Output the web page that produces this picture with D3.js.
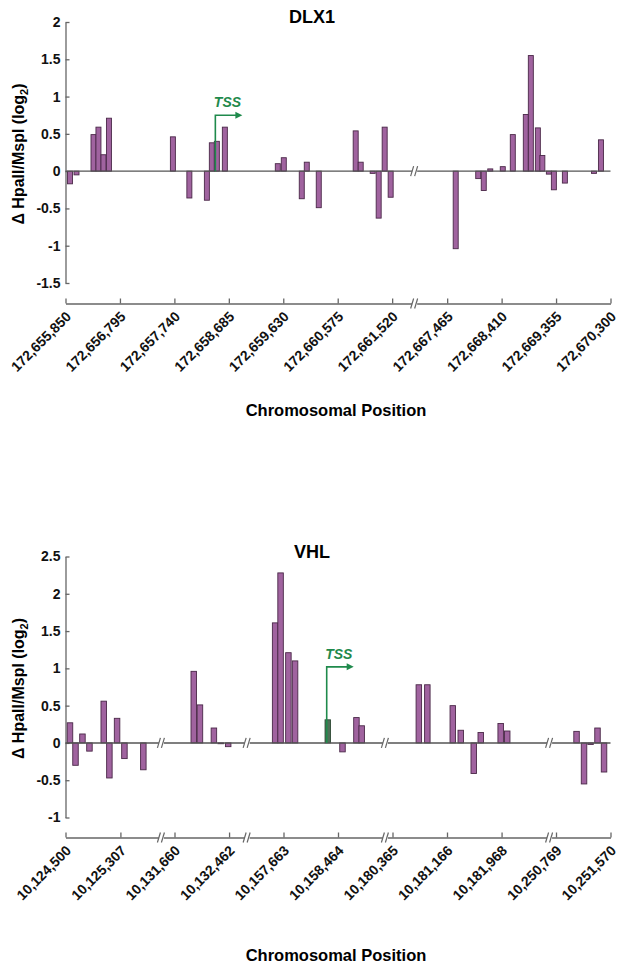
<!DOCTYPE html>
<html>
<head>
<meta charset="utf-8">
<script src="https://cdn.jsdelivr.net/npm/d3@7"></script>
<style>
  html, body { margin: 0; padding: 0; background: #fff; }
  svg { display: block; font-family: "Liberation Sans", Arial, Helvetica, sans-serif; }
</style>
</head>
<body>
<svg id="chart" width="621" height="967"></svg>
<script>
// DLX1 panel
const dlxTicks = [172655850, 172656795, 172657740, 172658685, 172659630, 172660575, 172661520,
  172667465, 172668410, 172669355, 172670300];
const dlxSegments = [[172655850, 172661919], [172666909, 172670300]];
const dlxPos = [172655928, 172656041, 172656336, 172656422, 172656509, 172656604, 172657714,
  172658000, 172658304, 172658390, 172658477, 172658616, 172659535, 172659639, 172659951,
  172660038, 172660246, 172660887, 172660974, 172661182, 172661286, 172661390, 172661494,
  172667613, 172668004, 172668100, 172668213, 172668430, 172668604, 172668830, 172668917,
  172669039, 172669117, 172669230, 172669317, 172669508, 172670013, 172670134];
const dlxVal = [-0.17, -0.05, 0.49, 0.59, 0.22, 0.71, 0.46, -0.36, -0.39, 0.38, 0.40, 0.59,
  0.10, 0.18, -0.37, 0.12, -0.49, 0.54, 0.12, -0.03, -0.63, 0.59, -0.35, -1.04, -0.10, -0.26,
  0.03, 0.06, 0.49, 0.76, 1.55, 0.58, 0.21, -0.04, -0.25, -0.16, -0.03, 0.42];
const dlxYTicks = [-1.5, -1, -0.5, 0, 0.5, 1, 1.5, 2];
const dlxTss = 172658451;

// VHL panel
const vhlTicks = [10124500, 10125307, 10131660, 10132462, 10157663, 10158464, 10180365,
  10181166, 10181968, 10250769, 10251570];
const vhlSegments = [[10124500, 10125917], [10131475, 10132735], [10157136, 10159168],
  [10180268, 10182681], [10250682, 10251570]];
const vhlPos = [10124566, 10124647, 10124749, 10124852, 10125062, 10125145, 10125258,
  10125366, 10125644, 10131943, 10132034, 10132239, 10132339, 10132449, 10157540, 10157620,
  10157735, 10157833, 10158314, 10158530, 10158735, 10158812, 10180752, 10180877, 10181251,
  10181368, 10181559, 10181662, 10181955, 10182051, 10251071, 10251181, 10251277, 10251379,
  10251475];
const vhlVal = [0.27, -0.30, 0.12, -0.11, 0.56, -0.47, 0.33, -0.21, -0.36, 0.96, 0.51, 0.20,
  -0.01, -0.05, 1.61, 2.28, 1.21, 1.10, 0.31, -0.12, 0.34, 0.23, 0.78, 0.78, 0.50, 0.17,
  -0.41, 0.14, 0.26, 0.16, 0.155, -0.55, -0.02, 0.20, -0.39];
const vhlYTicks = [-1, -0.5, 0, 0.5, 1, 1.5, 2, 2.5];
const vhlTss = 10158298;
const vhlTssBar = 18; // index of the bar drawn in green

const svg = d3.select("#chart");
const left = 65.5, right = 610.5;
const axisColor = "#666";

function drawPanel(cfg) {
  const g = svg.append("g");

  // piecewise x scale, one piece per visible genomic segment
  const total = d3.sum(cfg.segments, s => s[1] - s[0]);
  const k = (right - left) / total;
  const dom = [], rng = [];
  let px = left;
  cfg.segments.forEach(s => {
    dom.push(s[0], s[1]);
    rng.push(px, px + (s[1] - s[0]) * k);
    px += (s[1] - s[0]) * k;
  });
  const x = d3.scaleLinear().domain(dom).range(rng);
  const breaks = rng.filter((d, i) => i % 2 === 1 && i < rng.length - 1);

  const y = d3.scaleLinear().domain(d3.extent(cfg.yTicks)).range([cfg.top + 261, cfg.top]);

  // y axis
  g.append("g")
    .attr("transform", `translate(${left},0)`)
    .call(d3.axisLeft(y).tickValues(cfg.yTicks).tickSizeInner(-4).tickSizeOuter(0)
      .tickPadding(5).tickFormat(d => String(d)))
    .call(a => a.selectAll("path, line").attr("stroke", axisColor).attr("stroke-width", 1.3))
    .call(a => a.selectAll("text").attr("fill", "#111").attr("font-size", 14)
      .attr("font-weight", "bold").attr("font-family", null));

  // bars
  const data = cfg.pos.map((p, i) => ({pos: p, val: cfg.vals[i], i: i}));
  g.append("g").selectAll("rect")
    .data(data)
    .join("rect")
    .attr("x", d => x(d.pos) - cfg.barW / 2)
    .attr("y", d => y(Math.max(0, d.val)))
    .attr("width", cfg.barW)
    .attr("height", d => Math.max(0.8, Math.abs(y(d.val) - y(0))))
    .attr("fill", d => d.i === cfg.greenBar ? "#4f6f57" : "#a0639f")
    .attr("stroke", d => d.i === cfg.greenBar ? "#2f4a36" : "#4a2848")
    .attr("stroke-width", 0.9);

  // zero line
  g.append("line")
    .attr("x1", left).attr("x2", right)
    .attr("y1", y(0)).attr("y2", y(0))
    .attr("stroke", "#555").attr("stroke-width", 1.4);

  // x axis
  const xa = g.append("g")
    .attr("transform", `translate(0,${cfg.axisY})`)
    .call(d3.axisBottom(x).tickValues(cfg.ticks).tickSizeInner(-5).tickSizeOuter(0)
      .tickFormat(d3.format(",")));
  xa.selectAll("path, line").attr("stroke", axisColor).attr("stroke-width", 1.3);
  xa.selectAll("text")
    .attr("fill", "#111").attr("font-size", 14).attr("font-weight", "bold")
    .attr("font-family", null)
    .attr("x", 0).attr("y", 0).attr("dy", null)
    .attr("text-anchor", "end")
    .attr("transform", "translate(6,14) rotate(-45)");

  // axis break marks on the zero line and on the x axis
  breaks.forEach(bx => {
    [y(0), cfg.axisY].forEach(by => {
      g.append("rect").attr("x", bx - 3).attr("y", by - 2).attr("width", 5).attr("height", 4)
        .attr("fill", "#fff");
      [-3, 1].forEach(o => {
        g.append("line")
          .attr("x1", bx + o - 1.5).attr("y1", by + 5)
          .attr("x2", bx + o + 1.5).attr("y2", by - 5)
          .attr("stroke", axisColor).attr("stroke-width", 1.2);
      });
    });
  });

  // TSS arrow
  const tx = x(cfg.tss), ty = y(cfg.tssTop);
  const green = "#1f8a4c";
  g.append("path")
    .attr("d", `M${tx},${y(0)}V${ty}H${tx + 22}`)
    .attr("fill", "none").attr("stroke", green).attr("stroke-width", 1.6);
  g.append("path")
    .attr("d", `M${tx + 27},${ty}L${tx + 20},${ty - 3.5}L${tx + 20},${ty + 3.5}Z`)
    .attr("fill", green);
  g.append("text")
    .attr("x", tx - 1.5).attr("y", ty - 8)
    .attr("fill", green).attr("font-size", 14).attr("font-weight", "bold")
    .attr("font-style", "italic")
    .text("TSS");

  // titles
  g.append("text")
    .attr("x", 312).attr("y", cfg.top + 1)
    .attr("text-anchor", "middle").attr("font-size", 18).attr("font-weight", "bold")
    .text(cfg.title);

  const yl = g.append("text")
    .attr("transform", `translate(24,${cfg.top + 132}) rotate(-90)`)
    .attr("text-anchor", "middle").attr("font-size", 16).attr("font-weight", "bold");
  yl.append("tspan").text("\u0394 HpaII/MspI (log");
  yl.append("tspan").attr("font-size", 11).attr("dy", 4).text("2");
  yl.append("tspan").attr("dy", -4).text(")");

  g.append("text")
    .attr("x", 336).attr("y", cfg.xTitleY)
    .attr("text-anchor", "middle").attr("font-size", 16.5).attr("font-weight", "bold")
    .text("Chromosomal Position");
}

drawPanel({
  title: "DLX1", top: 22, axisY: 303.5, xTitleY: 416,
  ticks: dlxTicks, segments: dlxSegments, pos: dlxPos, vals: dlxVal, yTicks: dlxYTicks,
  tss: dlxTss, tssTop: 0.75, barW: 5, greenBar: -1
});

drawPanel({
  title: "VHL", top: 556.5, axisY: 837.5, xTitleY: 961,
  ticks: vhlTicks, segments: vhlSegments, pos: vhlPos, vals: vhlVal, yTicks: vhlYTicks,
  tss: vhlTss, tssTop: 1.02, barW: 5.5, greenBar: vhlTssBar
});
</script>
</body>
</html>
